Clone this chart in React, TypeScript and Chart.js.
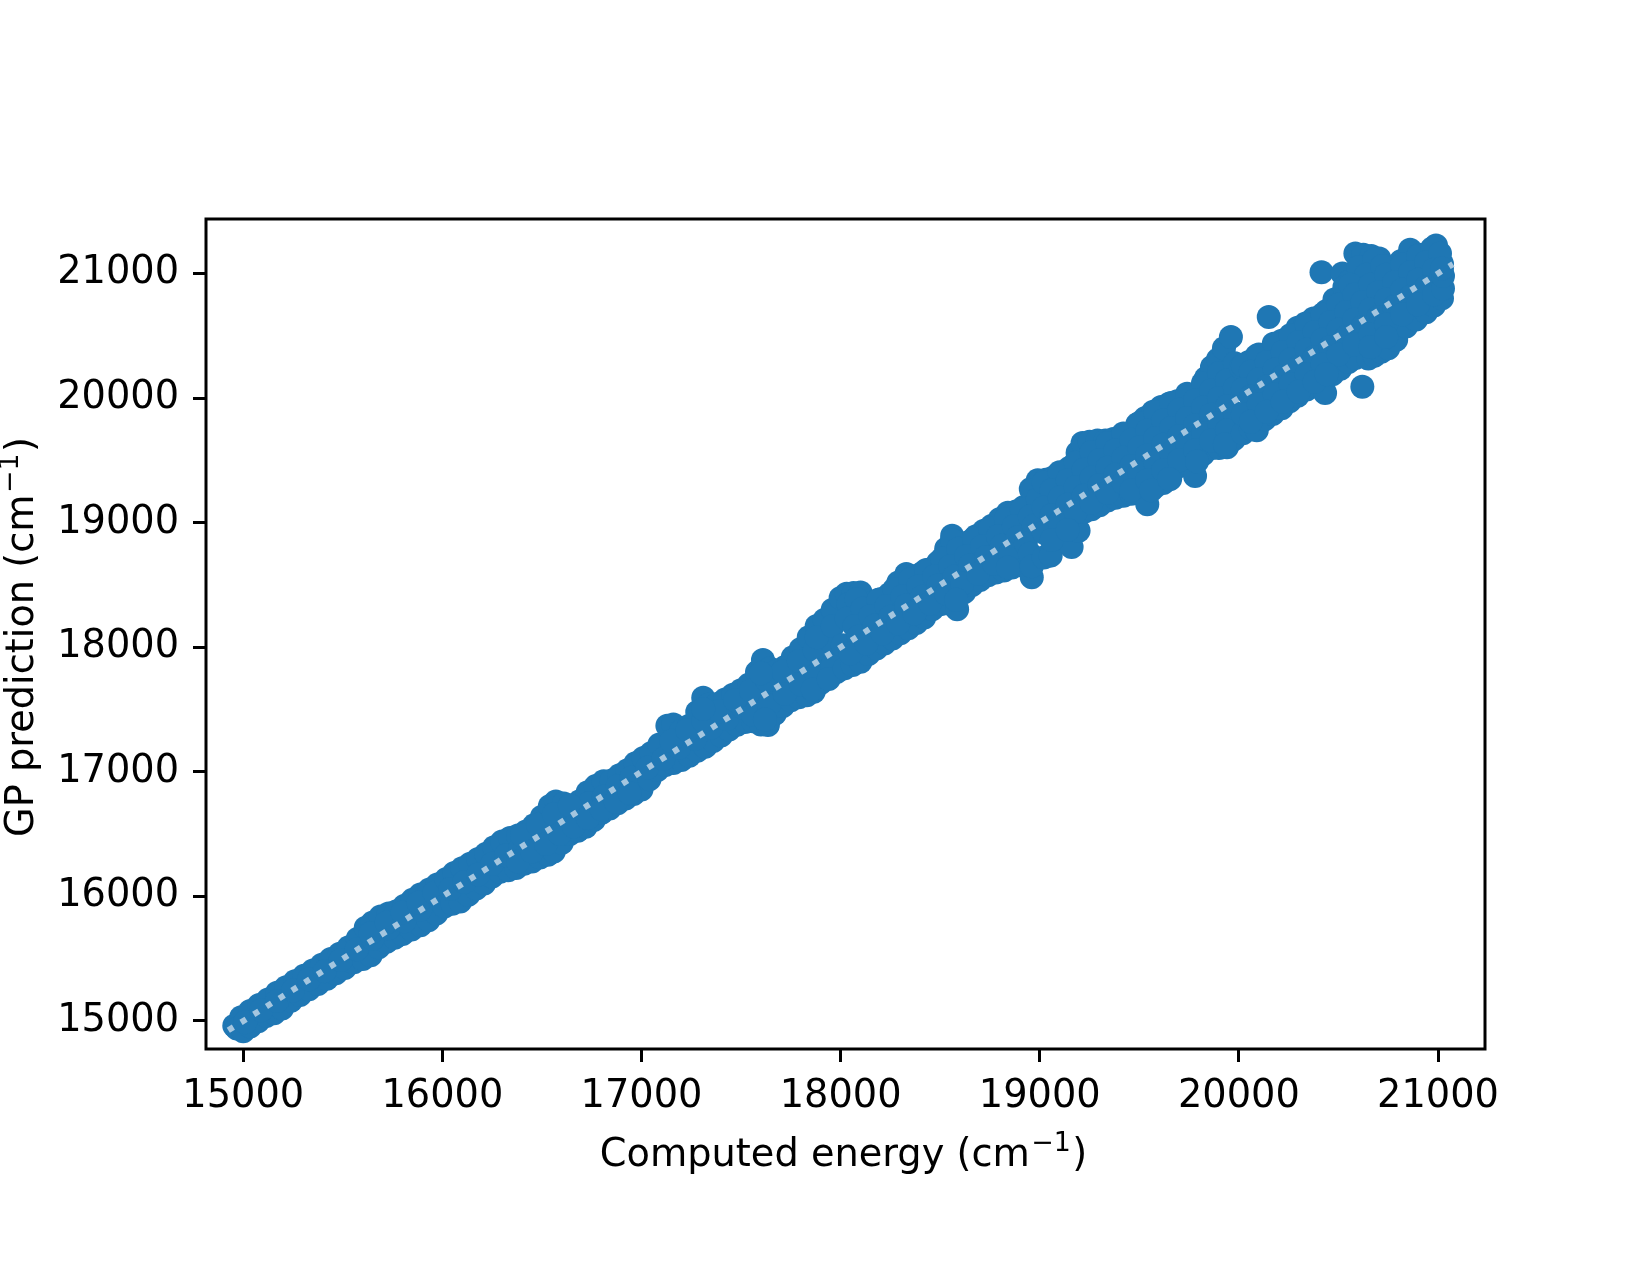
import { useEffect, useRef } from 'react';
import { Chart, registerables } from 'chart.js';

Chart.register(...registerables);

type Pt = [number, number];

// [computed energy, GP prediction] in cm^-1
const band15k: Pt[] = [
  [14955, 14962], [14990, 15030], [15035, 15080], [15080, 15128], [15125, 15172], [15170, 15226],
  [15215, 15270], [15260, 15318], [15305, 15362], [15350, 15405], [15395, 15452], [15440, 15497],
  [15485, 15540], [15530, 15592], [15575, 15660], [15615, 15748], [15650, 15790], [15690, 15838],
  [15730, 15862], [15770, 15880], [15810, 15925], [15850, 15972], [15890, 16015], [15935, 16055],
  [15975, 16095],
  [14968, 14940], [15000, 14918], [15035, 14955], [15075, 14998], [15115, 15040], [15155, 15062],
  [15195, 15100], [15240, 15162], [15285, 15208], [15330, 15254], [15375, 15296], [15420, 15338],
  [15465, 15382], [15510, 15426], [15555, 15472], [15600, 15498], [15640, 15527], [15680, 15592],
  [15720, 15636], [15760, 15668], [15800, 15697], [15845, 15734], [15890, 15768], [15930, 15808],
  [15970, 15862],
  [15010, 14990], [15090, 15085], [15170, 15160], [15250, 15245], [15330, 15335], [15410, 15400],
  [15490, 15490], [15570, 15575], [15650, 15660], [15730, 15745], [15810, 15800], [15890, 15895],
  [15970, 15985], [15640, 15705], [15720, 15790], [15800, 15870], [15880, 15950], [15960, 16030],
];

const band16k: Pt[] = [
  [16020, 16140], [16060, 16188], [16100, 16226], [16140, 16262], [16180, 16300], [16220, 16342],
  [16260, 16395], [16300, 16440], [16340, 16468], [16380, 16488], [16420, 16520], [16460, 16570],
  [16500, 16640], [16540, 16725], [16570, 16762], [16610, 16745], [16650, 16728], [16690, 16764],
  [16730, 16836], [16770, 16885], [16810, 16925], [16850, 16930], [16890, 16972], [16930, 17012],
  [16970, 17068],
  [16010, 15918], [16050, 15940], [16090, 15958], [16130, 16012], [16170, 16064], [16210, 16104],
  [16250, 16160], [16290, 16198], [16330, 16210], [16370, 16228], [16410, 16262], [16450, 16280],
  [16490, 16312], [16530, 16335], [16560, 16360], [16600, 16430], [16640, 16500], [16680, 16526],
  [16720, 16558], [16760, 16612], [16800, 16672], [16840, 16706], [16880, 16748], [16920, 16786],
  [16960, 16822], [17000, 16858],
  [16040, 16060], [16110, 16115], [16180, 16175], [16250, 16262], [16320, 16330], [16390, 16385],
  [16460, 16470], [16530, 16528], [16600, 16610], [16670, 16665], [16740, 16750], [16810, 16800],
  [16880, 16885], [16950, 16955],
  [16400, 16490], [16480, 16575], [16560, 16660], [16640, 16730],
  [16380, 16280], [16450, 16360], [16520, 16420], [16590, 16500], [16660, 16560], [16730, 16630],
  [16800, 16700], [16870, 16760], [16940, 16830],
];

const band17k: Pt[] = [
  [17010, 17110], [17050, 17150], [17090, 17220], [17130, 17370], [17160, 17380], [17200, 17330],
  [17240, 17370], [17280, 17480], [17310, 17595], [17340, 17540], [17380, 17545], [17420, 17580],
  [17460, 17618], [17500, 17655], [17540, 17700], [17580, 17800], [17610, 17897], [17645, 17830],
  [17680, 17810], [17720, 17842], [17760, 17920], [17800, 17985], [17840, 18080], [17880, 18170],
  [17920, 18220], [17960, 18300],
  [17040, 16940], [17080, 17015], [17120, 17055], [17160, 17070], [17200, 17094], [17240, 17128],
  [17280, 17168], [17320, 17200], [17360, 17248], [17400, 17292], [17440, 17340], [17480, 17378],
  [17520, 17400], [17560, 17405], [17600, 17380], [17635, 17375], [17670, 17465], [17710, 17528],
  [17750, 17575], [17790, 17598], [17830, 17615], [17865, 17642], [17900, 17712], [17940, 17758],
  [17980, 17800],
  [17030, 17035], [17110, 17105], [17190, 17195], [17270, 17265], [17350, 17355], [17430, 17425],
  [17510, 17515], [17590, 17585], [17670, 17675], [17750, 17745], [17830, 17835], [17910, 17905],
  [17990, 17995],
  [17150, 17250], [17230, 17335], [17310, 17410], [17390, 17485], [17470, 17575], [17550, 17650],
  [17630, 17735], [17710, 17805], [17790, 17890], [17870, 17975], [17950, 18050],
  [17560, 17455], [17640, 17535], [17720, 17625], [17800, 17700], [17880, 17780], [17960, 17855],
  [17310, 17505], [17600, 17790], [17880, 18080], [17960, 18170],
  [17620, 17420], [17860, 17660], [17940, 17745],
];

const band18k: Pt[] = [
  [18000, 18395], [18030, 18430], [18065, 18435], [18100, 18440], [18130, 18330], [18165, 18360],
  [18200, 18385], [18245, 18425], [18290, 18520], [18330, 18588], [18370, 18570], [18410, 18595],
  [18450, 18625], [18490, 18680], [18530, 18790], [18560, 18895], [18600, 18830], [18640, 18842],
  [18680, 18890], [18720, 18935], [18760, 18975], [18800, 19030], [18840, 19080], [18880, 19090],
  [18920, 19125], [18955, 19270], [18990, 19340],
  [18020, 17830], [18060, 17858], [18100, 17884], [18140, 17945], [18180, 17990], [18220, 18030],
  [18260, 18070], [18300, 18112], [18340, 18152], [18380, 18195], [18420, 18238], [18460, 18305],
  [18500, 18345], [18540, 18350], [18585, 18305], [18620, 18440], [18660, 18500], [18700, 18540],
  [18740, 18577], [18780, 18600], [18820, 18615], [18860, 18640], [18900, 18660], [18935, 18640],
  [18960, 18562],
  [18040, 18345], [18080, 18385], [18560, 18860], [18960, 19260],
  [18030, 18230], [18110, 18310], [18190, 18380], [18270, 18465], [18350, 18545], [18430, 18620],
  [18510, 18710], [18590, 18790], [18670, 18870], [18750, 18950], [18830, 19030], [18910, 19105],
  [18990, 19190],
  [18070, 18170], [18150, 18250], [18230, 18330], [18310, 18410], [18390, 18490], [18470, 18570],
  [18550, 18650], [18630, 18730], [18710, 18810], [18790, 18890], [18870, 18970], [18950, 19050],
  [18010, 18015], [18090, 18085], [18170, 18175], [18250, 18245], [18330, 18335], [18410, 18405],
  [18490, 18495], [18570, 18565], [18650, 18655], [18730, 18725], [18810, 18815], [18890, 18885],
  [18970, 18975],
  [18050, 17950], [18130, 18030], [18210, 18110], [18290, 18190], [18370, 18270], [18450, 18350],
  [18530, 18430], [18610, 18510], [18690, 18590], [18770, 18670], [18850, 18750], [18930, 18830],
  [18580, 18380], [18840, 18640], [18950, 18750], [18960, 18650],
];

const band19k: Pt[] = [
  [19030, 19345], [19070, 19365], [19110, 19400], [19150, 19440], [19190, 19560], [19215, 19640],
  [19250, 19650], [19290, 19660], [19330, 19660], [19370, 19672], [19410, 19680], [19450, 19705],
  [19490, 19790], [19530, 19840], [19570, 19890], [19610, 19928], [19650, 19955], [19690, 19975],
  [19730, 19995], [19770, 20005], [19800, 20030], [19835, 20160], [19865, 20250], [19895, 20310],
  [19925, 20400], [19960, 20490], [19985, 20230],
  [19020, 18720], [19055, 18735], [19090, 18960], [19125, 18880], [19160, 18805], [19195, 18935],
  [19225, 19090], [19260, 19108], [19300, 19140], [19340, 19178], [19380, 19200], [19420, 19215],
  [19460, 19232], [19500, 19232], [19540, 19148], [19580, 19290], [19620, 19318], [19655, 19350],
  [19695, 19450], [19735, 19480], [19780, 19375], [19820, 19548], [19860, 19596], [19900, 19598],
  [19940, 19605], [19975, 19670],
  [19020, 19320], [19100, 19405], [19180, 19480], [19260, 19565], [19340, 19640], [19420, 19715],
  [19500, 19800], [19580, 19885], [19660, 19960], [19740, 20035], [19820, 20120], [19900, 20200],
  [19980, 20280],
  [19060, 19260], [19140, 19340], [19220, 19425], [19300, 19500], [19380, 19580], [19460, 19665],
  [19540, 19740], [19620, 19820], [19700, 19905], [19780, 19980], [19860, 20060], [19940, 20140],
  [19020, 19120], [19100, 19200], [19180, 19285], [19260, 19360], [19340, 19440], [19420, 19520],
  [19500, 19605], [19580, 19680], [19660, 19760], [19740, 19840], [19820, 19925], [19900, 20000],
  [19980, 20080],
  [19060, 19060], [19140, 19145], [19220, 19215], [19300, 19300], [19380, 19385], [19460, 19455],
  [19540, 19540], [19620, 19625], [19700, 19695], [19780, 19780], [19860, 19865], [19940, 19935],
  [19020, 18920], [19100, 19000], [19180, 19085], [19260, 19160], [19340, 19240], [19420, 19320],
  [19500, 19400], [19580, 19485], [19660, 19560], [19740, 19640], [19820, 19720], [19900, 19800],
  [19980, 19880],
  [19060, 18860], [19140, 18940], [19460, 19260], [19540, 19340], [19620, 19420], [19700, 19500],
  [19780, 19580], [19860, 19660], [19940, 19740],
  [19560, 19260], [19650, 19350], [19790, 19490], [19930, 19630],
];

const band20k: Pt[] = [
  [20010, 20245], [20050, 20290], [20090, 20340], [20150, 20650], [20175, 20435], [20215, 20460],
  [20255, 20495], [20295, 20565], [20335, 20598], [20375, 20638], [20415, 21010], [20440, 20698],
  [20480, 20790], [20520, 21000], [20555, 20935], [20585, 21160], [20625, 21150], [20665, 21140],
  [20705, 21120], [20740, 21055], [20775, 21015], [20815, 21100], [20860, 21190], [20905, 21150],
  [20950, 21160], [20990, 21225], [21020, 21075],
  [20020, 19718], [20060, 19755], [20090, 19742], [20130, 19830], [20170, 19872], [20215, 19918],
  [20255, 19975], [20295, 20018], [20340, 20068], [20385, 20098], [20433, 20040], [20470, 20190],
  [20510, 20235], [20550, 20290], [20585, 20322], [20620, 20090], [20650, 20318], [20680, 20340],
  [20715, 20372], [20750, 20400], [20790, 20468], [20840, 20574], [20890, 20630], [20940, 20688],
  [20980, 20742], [21020, 20800],
  [20600, 21050], [20680, 21110], [20640, 20990], [20530, 20890], [20560, 20910], [20720, 21060],
  [20020, 20260], [20100, 20350], [20180, 20430], [20260, 20505], [20340, 20590], [20420, 20670],
  [20500, 20750], [20580, 20830], [20660, 20910], [20740, 20990], [20820, 21070], [20900, 21140],
  [20970, 21200],
  [20060, 20210], [20140, 20290], [20220, 20370], [20300, 20450], [20380, 20530], [20460, 20610],
  [20540, 20690], [20620, 20770], [20700, 20850], [20780, 20930], [20860, 21010], [20940, 21090],
  [21010, 21160],
  [20020, 20070], [20100, 20150], [20180, 20230], [20260, 20310], [20340, 20390], [20420, 20470],
  [20500, 20550], [20580, 20630], [20660, 20710], [20740, 20790], [20820, 20870], [20900, 20950],
  [20980, 21030],
  [20060, 20010], [20140, 20090], [20220, 20170], [20300, 20250], [20380, 20330], [20460, 20410],
  [20540, 20490], [20620, 20570], [20700, 20650], [20780, 20730], [20860, 20810], [20940, 20890],
  [21015, 20965],
  [20020, 19870], [20100, 19950], [20180, 20030], [20260, 20110], [20340, 20190], [20420, 20270],
  [20500, 20350], [20580, 20430], [20660, 20510], [20740, 20590], [20820, 20670], [20900, 20750],
  [20980, 20830],
  [20060, 19810], [20140, 19890], [20220, 19970], [20300, 20050], [20380, 20130], [20440, 20190],
  [20660, 20410], [20740, 20490],
  [21025, 20880], [21025, 20980], [21020, 21040],
];

const identityEnds = [14925, 21075];
const xTicks = [15000, 16000, 17000, 18000, 19000, 20000, 21000];
const yTicks = [15000, 16000, 17000, 18000, 19000, 20000, 21000];
const xLimits = [14813, 21236];
const yLimits = [14775, 21437];
const xTitle = ['Computed energy (cm', '\u22121', ')'];
const yTitle = ['GP prediction (cm', '\u22121', ')'];

const FONT = '"DejaVu Sans"';
const FONT_SIZE = 38.3;

function drawMathTitle(ctx: CanvasRenderingContext2D, parts: string[], x: number, y: number) {
  const main = `${FONT_SIZE}px ${FONT}`;
  const sup = `${(FONT_SIZE * 0.7).toFixed(1)}px ${FONT}`;
  ctx.font = main;
  const w0 = ctx.measureText(parts[0]).width;
  const w2 = ctx.measureText(parts[2]).width;
  ctx.font = sup;
  const w1 = ctx.measureText(parts[1]).width + 3;
  const total = w0 + w1 + w2;
  let cx = x - total / 2;
  ctx.textBaseline = 'alphabetic';
  ctx.textAlign = 'left';
  ctx.fillStyle = '#000';
  ctx.font = main;
  ctx.fillText(parts[0], cx, y);
  cx += w0;
  ctx.font = sup;
  ctx.fillText(parts[1], cx + 1.5, y - 15);
  cx += w1;
  ctx.font = main;
  ctx.fillText(parts[2], cx, y);
}

export default function App() {
  const ref = useRef<HTMLCanvasElement>(null);

  useEffect(() => {
    const canvas = ref.current;
    if (!canvas) return;
    const points = [...band15k, ...band16k, ...band17k, ...band18k, ...band19k, ...band20k].map(
      ([x, y]) => ({ x, y })
    );
    const framePlugin = {
      id: 'frame',
      afterDatasetsDraw(chart: any) {
        const { ctx, chartArea: a } = chart;
        ctx.save();
        ctx.strokeStyle = '#000';
        ctx.lineWidth = 3;
        ctx.strokeRect(a.left, a.top, a.right - a.left, a.bottom - a.top);
        ctx.restore();
      },
      afterDraw(chart: any) {
        const { ctx, chartArea: a } = chart;
        ctx.save();
        drawMathTitle(ctx, xTitle, (a.left + a.right) / 2 - 2, 1166);
        ctx.restore();
        ctx.save();
        ctx.translate(33, (a.top + a.bottom) / 2 + 3);
        ctx.rotate(-Math.PI / 2);
        drawMathTitle(ctx, yTitle, 0, 0);
        ctx.restore();
      },
    };

    const tickFont = { family: 'DejaVu Sans', size: FONT_SIZE };
    const chart = new Chart(canvas, {
      type: 'scatter',
      data: {
        datasets: [
          {
            data: identityEnds.map((v) => ({ x: v, y: v })),
            showLine: true,
            borderColor: '#a5c6df',
            borderWidth: 6,
            borderDash: [6, 9],
            borderCapStyle: 'butt',
            pointRadius: 0,
            fill: false,
            order: 0,
          } as any,
          {
            data: points,
            pointBackgroundColor: '#1f77b4',
            pointBorderColor: '#1f77b4',
            pointBorderWidth: 0,
            pointRadius: 12,
            pointHoverRadius: 12,
            order: 1,
          } as any,
        ],
      },
      options: {
        responsive: false,
        animation: false,
        devicePixelRatio: 1,
        layout: { padding: { left: 0, right: 165, top: 219, bottom: 0 } },
        plugins: { legend: { display: false }, tooltip: { enabled: false } },
        scales: {
          x: {
            type: 'linear',
            min: xLimits[0],
            max: xLimits[1],
            afterBuildTicks: (s: any) => {
              s.ticks = xTicks.map((v) => ({ value: v }));
            },
            afterFit: (s: any) => {
              s.height = 226;
            },
            ticks: {
              callback: (v: any) => String(v),
              font: tickFont,
              color: '#000',
              padding: 12,
              maxRotation: 0,
              autoSkip: false,
            },
            grid: {
              drawOnChartArea: false,
              drawTicks: true,
              tickLength: 13,
              tickWidth: 3,
              tickColor: '#000',
            },
            border: { display: false },
            title: { display: false },
          },
          y: {
            type: 'linear',
            min: yLimits[0],
            max: yLimits[1],
            afterBuildTicks: (s: any) => {
              s.ticks = yTicks.map((v) => ({ value: v }));
            },
            afterFit: (s: any) => {
              s.width = 206;
            },
            ticks: {
              callback: (v: any) => String(v),
              font: tickFont,
              color: '#000',
              padding: 14,
              autoSkip: false,
            },
            grid: {
              drawOnChartArea: false,
              drawTicks: true,
              tickLength: 13,
              tickWidth: 3,
              tickColor: '#000',
            },
            border: { display: false },
            title: { display: false },
          },
        },
      } as any,
      plugins: [framePlugin],
    });
    return () => chart.destroy();
  }, []);

  return (
    <div style={{ position: 'absolute', left: 0, top: 0, width: 1650, height: 1275, background: '#fff' }}>
      <canvas ref={ref} width={1650} height={1275} style={{ display: 'block', width: 1650, height: 1275 }} />
    </div>
  );
}
